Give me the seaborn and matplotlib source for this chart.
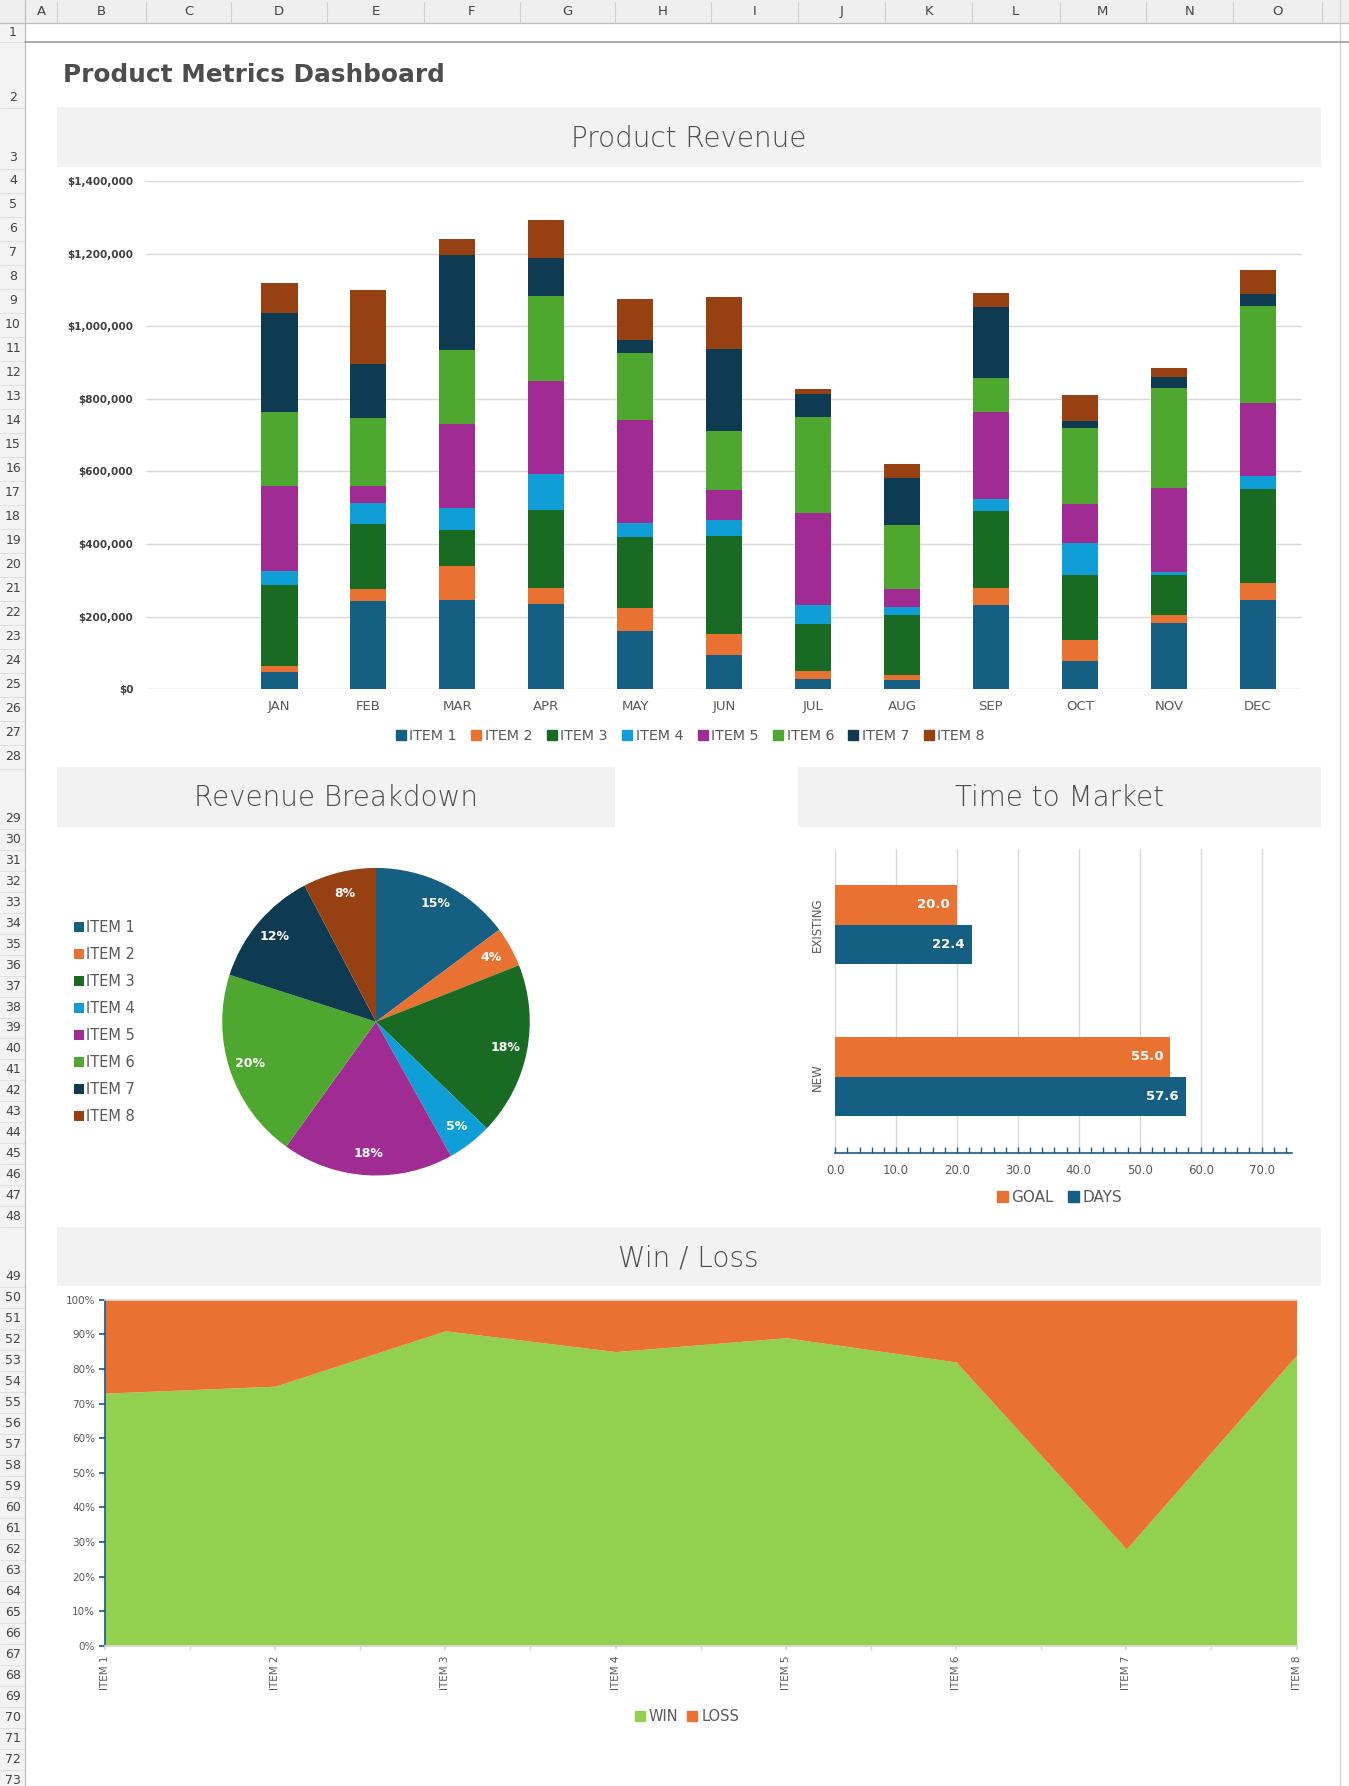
import matplotlib
matplotlib.use('Agg')
import matplotlib.pyplot as plt
from matplotlib.patches import Rectangle, Patch
from matplotlib.lines import Line2D
from matplotlib.ticker import MultipleLocator, FuncFormatter
import seaborn as sns
import numpy as np
import pandas as pd

# ---- data ----
MONTHS = ['JAN', 'FEB', 'MAR', 'APR', 'MAY', 'JUN', 'JUL', 'AUG', 'SEP', 'OCT', 'NOV', 'DEC']
ITEMS = ['ITEM 1', 'ITEM 2', 'ITEM 3', 'ITEM 4', 'ITEM 5', 'ITEM 6', 'ITEM 7', 'ITEM 8']
ITEM_1 = [48000, 243000, 246000, 235000, 161000, 95000, 28000, 26000, 232000, 78000, 183000, 245000]
ITEM_2 = [16000, 33000, 94000, 44000, 63000, 58000, 22000, 14000, 47000, 58000, 22000, 47000]
ITEM_3 = [223000, 179000, 99000, 215000, 196000, 270000, 129000, 165000, 212000, 179000, 110000, 259000]
ITEM_4 = [39000, 58000, 61000, 99000, 39000, 44000, 52000, 22000, 33000, 88000, 8000, 35000]
ITEM_5 = [234000, 47000, 231000, 255000, 284000, 83000, 253000, 50000, 240000, 107000, 231000, 202000]
ITEM_6 = [204000, 187000, 204000, 234000, 182000, 160000, 267000, 176000, 94000, 209000, 276000, 267000]
ITEM_7 = [273000, 149000, 261000, 107000, 36000, 226000, 63000, 129000, 196000, 19000, 30000, 33000]
ITEM_8 = [82000, 204000, 44000, 103000, 113000, 145000, 14000, 39000, 39000, 72000, 25000, 66000]
ITEM_COLORS = ['#156082', '#E97132', '#196B24', '#0F9ED5', '#A02B93', '#4EA72E', '#0E3A52', '#974012']

SEGMENTS = ['EXISTING', 'NEW']
GOAL = [20.0, 55.0]
DAYS = [22.4, 57.6]

WL_ITEMS = ['ITEM 1', 'ITEM 2', 'ITEM 3', 'ITEM 4', 'ITEM 5', 'ITEM 6', 'ITEM 7', 'ITEM 8']
WIN = [73, 75, 91, 85, 89, 82, 28, 84]
LOSS = [27, 25, 9, 15, 11, 18, 72, 16]

COL_LETTERS = ['A', 'B', 'C', 'D', 'E', 'F', 'G', 'H', 'I', 'J', 'K', 'L', 'M', 'N', 'O']

sns.set_theme(style='white')
plt.rcParams['font.family'] = ['DejaVu Sans']

TXT = '#595959'
TITLE = '#4D4D4D'
GRID = '#D9D9D9'
AXBLUE = '#1F5C8B'
BAND = '#F2F2F2'
ORANGE = '#E97132'
BLUE = '#156082'
WIN_C = '#92D050'

# layout in reference units (scaled to the figure)
W, H = 1184, 1568


def fx(x):
    return x / W


def fy(y):
    return 1 - y / H


def rect(x0, y0, x1, y1):
    return [fx(x0), fy(y1), (x1 - x0) / W, (y1 - y0) / H]


fig = plt.figure(figsize=(13.49, 17.86), dpi=100)


def fig_box(x0, y0, x1, y1, color, z=0):
    fig.patches.append(Rectangle((fx(x0), fy(y1)), (x1 - x0) / W, (y1 - y0) / H,
                                 transform=fig.transFigure, facecolor=color,
                                 edgecolor='none', zorder=z))


def fig_line(xs, ys, color, lw=1.0):
    fig.add_artist(Line2D([fx(x) for x in xs], [fy(y) for y in ys],
                          transform=fig.transFigure, color=color, lw=lw))


# ---- spreadsheet frame ----
fig_box(0, 0, W, 20, '#EFEFEF')
fig_box(0, 20, 22, H, '#F3F3F3')
col_edges = [22, 50, 128, 203, 287, 372, 456, 540, 624, 700, 777, 853, 930, 1006, 1082, 1160]
for i, letter in enumerate(COL_LETTERS):
    fig.text(fx((col_edges[i] + col_edges[i + 1]) / 2), fy(10), letter,
             ha='center', va='center', fontsize=9.5, color='#444444')
for e in col_edges:
    fig_line([e, e], [2, 20], '#D0D0D0', 0.8)
fig_line([1176, 1176], [0, H], '#D6D6D6', 1.0)

edges = [20, 37, 95, 148]
for n in range(4, 29):
    edges.append(148 + (n - 3) * 21.08)
edges.append(728)
for n in range(30, 49):
    edges.append(728 + (n - 29) * 18.37)
edges.append(1130)
for n in range(50, 74):
    edges.append(1130 + (n - 49) * 18.42)
for n in range(1, 74):
    top, bot = edges[n - 1], edges[n]
    ly = bot - 9.5 if n in (2, 3, 29, 49) else (top + bot) / 2
    fig.text(fx(11.5), fy(ly), str(n), ha='center', va='center', fontsize=9, color='#444444')
    fig_line([0, 22], [bot, bot], '#DDDDDD', 0.6)
fig_line([22, 22], [0, H], '#BDBDBD', 0.9)
fig_line([0, W], [20, 20], '#BDBDBD', 0.9)
fig_line([22, W], [37, 37], '#9E9E9E', 1.2)

# ---- titles and bands ----
fig.text(fx(55), fy(66), 'Product Metrics Dashboard', ha='left', va='center',
         fontsize=17.8, fontweight='bold', color=TITLE)
bands = [((50, 94, 1159, 147), 'Product Revenue'),
         ((50, 673, 540, 726), 'Revenue Breakdown'),
         ((700, 673, 1159, 726), 'Time to Market'),
         ((50, 1077, 1159, 1129), 'Win / Loss')]
for (x0, y0, x1, y1), title in bands:
    fig_box(x0, y0, x1, y1, BAND)
    fig.text(fx((x0 + x1) / 2), fy((y0 + y1) / 2 + 1.5), title, ha='center', va='center',
             fontsize=20, fontweight='light', color=TITLE)

# ---- Product Revenue: stacked columns ----
ax1 = fig.add_axes(rect(128, 159, 1143, 605))
item_vals = np.array([ITEM_1, ITEM_2, ITEM_3, ITEM_4, ITEM_5, ITEM_6, ITEM_7, ITEM_8])
stack = np.cumsum(item_vals, axis=0)
# draw the running totals from the top layer down so each item shows as a segment
for k in range(len(ITEMS) - 1, -1, -1):
    sns.barplot(x=MONTHS, y=stack[k], color=ITEM_COLORS[k], saturation=1,
                width=0.41, linewidth=0, ax=ax1)
ax1.set_xlim(-1.5, 11.5)
ax1.set_ylim(0, 1400000)
ax1.set_yticks(range(0, 1400001, 200000))
ax1.yaxis.set_major_formatter(FuncFormatter(lambda v, p: f'${v:,.0f}'))
ax1.grid(axis='y', color=GRID, lw=1)
ax1.set_axisbelow(True)
for s in ax1.spines.values():
    s.set_visible(False)
ax1.set_xlabel('')
ax1.set_ylabel('')
ax1.tick_params(axis='y', length=0, pad=9, labelsize=7.5, labelcolor='#404040')
ax1.tick_params(axis='x', length=0, pad=8, labelsize=9.5, labelcolor=TXT)
for t in ax1.get_yticklabels():
    t.set_fontweight('bold')

fig.legend(handles=[Patch(color=c) for c in ITEM_COLORS], labels=ITEMS,
           loc='center', bbox_to_anchor=(fx(606), fy(646)), ncol=8, frameon=False,
           fontsize=10.3, labelcolor=TXT, handlelength=0.7, handleheight=0.7,
           handletextpad=0.25, columnspacing=1.0)

# ---- Revenue Breakdown: pie ----
ax2 = fig.add_axes(rect(195, 762, 465, 1032))
totals = item_vals.sum(axis=1)
ax2.pie(totals, colors=ITEM_COLORS, startangle=90, counterclock=False,
        autopct='%.0f%%', pctdistance=0.86, wedgeprops=dict(linewidth=0),
        textprops=dict(color='white', fontsize=9, fontweight='bold'))
ax2.set_xlim(-1, 1)
ax2.set_ylim(-1, 1)
for i, name in enumerate(ITEMS):
    ly = 814 + i * 23.7
    fig_box(65, ly - 4.5, 73.5, ly + 4, ITEM_COLORS[i], z=1)
    fig.text(fx(75.5), fy(ly), name, ha='left', va='center', fontsize=10.5, color=TXT)

# ---- Time to Market: horizontal bars ----
ax3 = fig.add_axes(rect(733, 745, 1134, 1012))
ttm = pd.DataFrame({'segment': SEGMENTS * 2,
                    'series': ['GOAL'] * len(GOAL) + ['DAYS'] * len(DAYS),
                    'value': GOAL + DAYS})
sns.barplot(data=ttm, x='value', y='segment', hue='series', hue_order=['GOAL', 'DAYS'],
            palette=[ORANGE, BLUE], orient='h', width=0.52, saturation=1, linewidth=0,
            legend=False, ax=ax3)
for c in ax3.containers:
    for t in ax3.bar_label(c, fmt='%.1f', padding=-5, color='white', fontsize=9.5,
                           fontweight='bold'):
        t.set_ha('right')
ax3.set_xlim(0, 75)
ax3.set_ylim(1.5, -0.5)
ax3.set_xticks(range(0, 71, 10))
ax3.xaxis.set_major_formatter(FuncFormatter(lambda v, p: f'{v:.1f}'))
ax3.xaxis.set_minor_locator(MultipleLocator(2))
ax3.grid(axis='x', which='major', color=GRID, lw=1)
ax3.set_axisbelow(True)
for s in ['top', 'right', 'left']:
    ax3.spines[s].set_visible(False)
ax3.spines['bottom'].set_color(AXBLUE)
ax3.spines['bottom'].set_linewidth(1.2)
ax3.tick_params(axis='x', which='both', direction='in', length=4, color=AXBLUE,
                bottom=True, width=1)
ax3.tick_params(axis='x', which='major', labelsize=8.5, labelcolor=TXT, pad=8)
ax3.set_yticks([0, 1])
ax3.set_yticklabels(SEGMENTS, rotation=90, va='center')
ax3.tick_params(axis='y', length=0, pad=8, labelsize=8.5, labelcolor=TXT)
ax3.set_xlabel('')
ax3.set_ylabel('')
fig.legend(handles=[Patch(color=ORANGE), Patch(color=BLUE)], labels=['GOAL', 'DAYS'],
           loc='center', bbox_to_anchor=(fx(930), fy(1051)), ncol=2, frameon=False,
           fontsize=11, labelcolor=TXT, handlelength=0.7, handleheight=0.7,
           handletextpad=0.25, columnspacing=0.9)

# ---- Win / Loss: 100% stacked area ----
ax4 = fig.add_axes(rect(92, 1141, 1138, 1445))
xs = np.arange(len(WL_ITEMS))
ax4.stackplot(xs, WIN, LOSS, colors=[WIN_C, ORANGE], linewidth=0)
ax4.set_xlim(0, len(WL_ITEMS) - 1)
ax4.set_ylim(0, 100)
ax4.set_yticks(range(0, 101, 10))
ax4.yaxis.set_major_formatter(FuncFormatter(lambda v, p: f'{v:.0f}%'))
ax4.yaxis.set_minor_locator(MultipleLocator(5))
ax4.set_xticks(xs)
ax4.set_xticklabels(WL_ITEMS, rotation=90, va='top', ha='center')
ax4.xaxis.set_minor_locator(MultipleLocator(0.5))
ax4.spines['right'].set_visible(False)
ax4.spines['top'].set_color(GRID)
ax4.spines['bottom'].set_color(GRID)
ax4.spines['left'].set_color(AXBLUE)
ax4.tick_params(axis='y', which='major', direction='out', length=4, color=AXBLUE,
                left=True, labelsize=7.5, labelcolor=TXT, pad=3)
ax4.tick_params(axis='y', which='minor', direction='in', length=3, color=AXBLUE, left=True)
ax4.tick_params(axis='x', which='both', direction='out', length=3, color=GRID,
                bottom=True, labelsize=7.5, labelcolor=TXT, pad=4)
fig.legend(handles=[Patch(color=WIN_C), Patch(color=ORANGE)], labels=['WIN', 'LOSS'],
           loc='center', bbox_to_anchor=(fx(603), fy(1507)), ncol=2, frameon=False,
           fontsize=10.5, labelcolor=TXT, handlelength=0.7, handleheight=0.7,
           handletextpad=0.25, columnspacing=0.6)

fig.savefig('out.png', dpi=100)
